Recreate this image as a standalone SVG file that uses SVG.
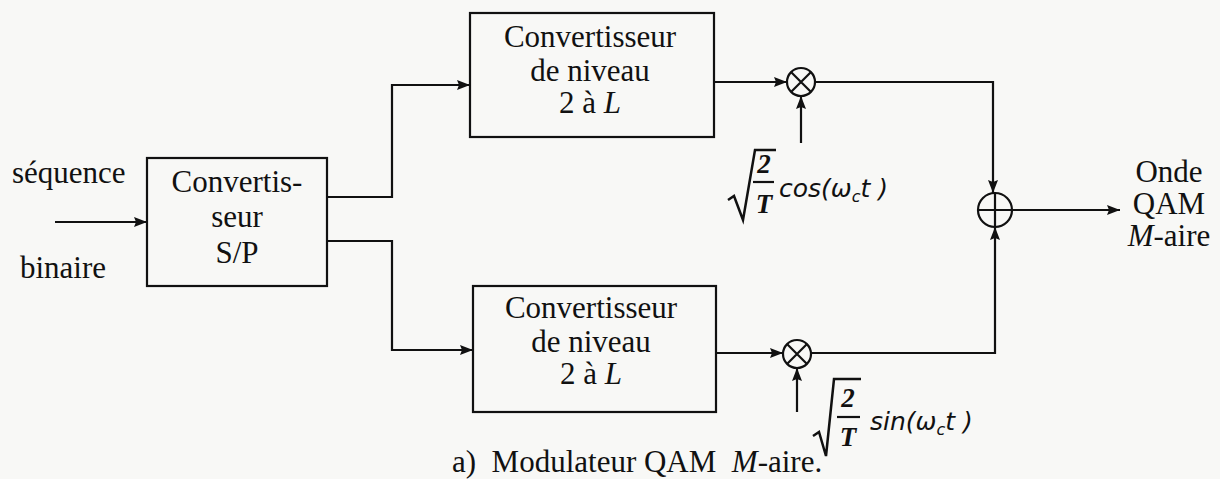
<svg xmlns="http://www.w3.org/2000/svg" width="1220" height="479" viewBox="0 0 1220 479">
<defs>
<marker id="ah" viewBox="0 0 13 10" refX="13" refY="5" markerWidth="13" markerHeight="10" markerUnits="userSpaceOnUse" orient="auto">
<path d="M0,0 L13,5 L0,10 L2,5 Z" fill="#111"/>
</marker>
</defs>
<style>
.box{fill:none;stroke:#111;stroke-width:2.2}
.ln{fill:none;stroke:#111;stroke-width:2.2}
.rad{fill:none;stroke:#111;stroke-width:2.5;stroke-linejoin:miter}
.t{font-family:'Liberation Serif','Times New Roman',serif;font-size:31px;fill:#111}
.c{text-anchor:middle}
.f{font-family:'DejaVu Sans','Liberation Sans',sans-serif;font-style:italic;font-size:25px;fill:#111}
.fr{font-family:'Liberation Serif','Times New Roman',serif;font-style:italic;font-weight:bold;font-size:27px;fill:#111;text-anchor:middle}
.i{font-style:italic}
</style>
<rect width="1220" height="479" fill="#f8f8f6"/>

<g id="connectors">
<path class="ln" d="M55,222 H147" marker-end="url(#ah)"/>
<path class="ln" d="M327,197 H392 V85 H470" marker-end="url(#ah)"/>
<path class="ln" d="M327,241 H392 V350 H473" marker-end="url(#ah)"/>
<path class="ln" d="M714,82 H787" marker-end="url(#ah)"/>
<path class="ln" d="M801,143 V96" marker-end="url(#ah)"/>
<path class="ln" d="M815,82 H993 V193" marker-end="url(#ah)"/>
<path class="ln" d="M716,353 H783" marker-end="url(#ah)"/>
<path class="ln" d="M797,412 V368" marker-end="url(#ah)"/>
<path class="ln" d="M811,353 H995 V227" marker-end="url(#ah)"/>
<path class="ln" d="M1012,210 H1120" marker-end="url(#ah)"/>
</g>

<g id="input-label">
<text class="t" x="12" y="183">séquence</text>
<text class="t" x="20" y="278">binaire</text>
</g>

<g id="sp">
<rect class="box" x="147" y="158" width="180" height="128"/>
<text class="t c" x="237" y="192">Convertis-</text>
<text class="t c" x="237" y="227">seur</text>
<text class="t c" x="237" y="263">S/P</text>
</g>

<g id="conv-top">
<rect class="box" x="470" y="13" width="244" height="124"/>
<text class="t c" x="590" y="47">Convertisseur</text>
<text class="t c" x="590" y="81">de niveau</text>
<text class="t c" x="590" y="113">2 à <tspan class="i">L</tspan></text>
</g>

<g id="conv-bot">
<rect class="box" x="473" y="286" width="243" height="126"/>
<text class="t c" x="591" y="318">Convertisseur</text>
<text class="t c" x="591" y="352">de niveau</text>
<text class="t c" x="591" y="384">2 à <tspan class="i">L</tspan></text>
</g>

<g id="mult-top">
<circle class="ln" cx="801" cy="82" r="14"/>
<path class="ln" d="M791,72 L811,92 M811,72 L791,92"/>
</g>

<g id="mult-bot">
<circle class="ln" cx="797" cy="354" r="14"/>
<path class="ln" d="M787,344 L807,364 M807,344 L787,364"/>
</g>

<g id="sum">
<circle class="ln" cx="995" cy="210" r="17"/>
<path class="ln" d="M978,210 H1012 M995,193 V227"/>
</g>

<g id="cos-label">
<path class="rad" d="M728,200 L734,196 L743,220 L755,150 H776"/>
<path class="ln" d="M753,182 H774"/>
<text class="fr" x="764" y="173">2</text>
<text class="fr" x="764" y="213">T</text>
<text class="f" x="779" y="197">cos(ω<tspan font-size="16" dy="5">c</tspan><tspan dy="-5">t )</tspan></text>
</g>

<g id="sin-label">
<path class="rad" d="M813,436 L819,432 L826,456 L834,379 H861"/>
<path class="ln" d="M837,417 H860"/>
<text class="fr" x="848" y="407">2</text>
<text class="fr" x="848" y="446">T</text>
<text class="f" x="870" y="430">sin(ω<tspan font-size="16" dy="5">c</tspan><tspan dy="-5">t )</tspan></text>
</g>

<g id="output-label">
<text class="t c" x="1169" y="182">Onde</text>
<text class="t c" x="1169" y="214">QAM</text>
<text class="t c" x="1169" y="246"><tspan class="i">M</tspan>-aire</text>
</g>

<g id="caption">
<text class="t" x="452" y="472" xml:space="preserve">a)  Modulateur QAM  <tspan class="i">M</tspan>-aire.</text>
</g>
</svg>
